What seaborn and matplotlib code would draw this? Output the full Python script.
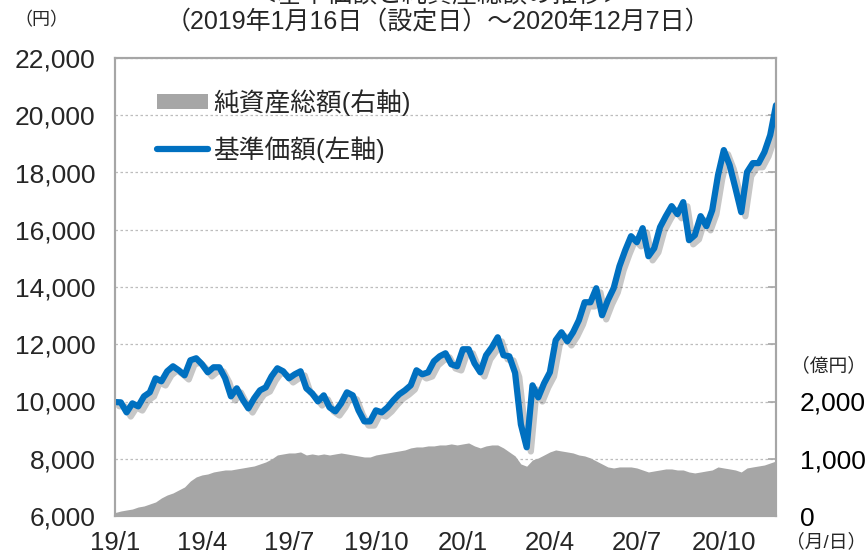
import numpy as np
import pandas as pd
import matplotlib
matplotlib.use("Agg")
import matplotlib.pyplot as plt
import matplotlib.patheffects as pe
from matplotlib.patches import Patch
from matplotlib.lines import Line2D
import seaborn as sns

# ---------------- data ----------------
tick_labels = ["19/1", "19/4", "19/7", "19/10", "20/1", "20/4", "20/7", "20/10"]
tick_step = 15  # observation index spacing between labelled ticks

price = [9980, 9970, 9620, 9935, 9830, 10180, 10320, 10810, 10705, 11055,
         11230, 11090, 10915, 11440, 11510, 11300, 11020, 11195, 11195, 10810,
         10180, 10460, 10075, 9760, 10110, 10390, 10495, 10880, 11160, 11055,
         10810, 10950, 11055, 10460, 10285, 10005, 10215, 9795, 9655, 9935,
         10320, 10215, 9690, 9305, 9305, 9690, 9620, 9795, 10040, 10250,
         10390, 10565, 11090, 10950, 11020, 11405, 11580, 11685, 11300, 11230,
         11825, 11825, 11335, 11020, 11615, 11895, 12243, 11615, 11580, 11000,
         9200, 8400, 10565, 10145, 10635, 11020, 12138, 12418, 12103, 12418,
         12838, 13467, 13467, 13957, 13013, 13537, 13957, 14726, 15285, 15775,
         15565, 16055, 15075, 15355, 16090, 16475, 16825, 16545, 16965, 15635,
         15810, 16475, 16125, 16685, 17908, 18783, 18258, 17454, 16615, 18013,
         18328, 18328, 18713, 19307, 20350]

nav = [60, 87, 105, 122, 157, 175, 210, 245, 315, 367,
       402, 455, 507, 612, 682, 717, 734, 769, 787, 804,
       804, 822, 839, 857, 874, 909, 944, 996, 1066, 1084,
       1101, 1101, 1119, 1066, 1084, 1066, 1084, 1066, 1084, 1101,
       1084, 1066, 1049, 1031, 1031, 1066, 1084, 1101, 1119, 1136,
       1154, 1189, 1206, 1206, 1224, 1224, 1241, 1241, 1259, 1241,
       1259, 1276, 1224, 1189, 1224, 1241, 1241, 1189, 1119, 1049,
       909, 870, 979, 1014, 1066, 1119, 1154, 1136, 1119, 1101,
       1066, 1049, 1014, 961, 909, 857, 839, 857, 857, 857,
       839, 804, 769, 787, 804, 822, 822, 804, 804, 769,
       752, 769, 787, 804, 857, 839, 822, 804, 769, 839,
       857, 874, 891, 926, 961]

left_ticks = list(range(6000, 22001, 2000))
right_ticks = list(range(0, 8001, 1000))
right_labels = ["0", "1,000", "2,000"]

# ---------------- style ----------------
sns.set_theme(style="white")
plt.rcParams['font.family'] = ['Liberation Sans', 'Noto Sans CJK JP', 'DejaVu Sans']

BLUE = "#0070C0"
GRAY = "#A6A6A6"
SPINE = "#A6A6A6"

df = pd.DataFrame({"idx": np.arange(len(price)), "price": price, "nav": nav})

W, H = 865, 556
fig = plt.figure(figsize=(W / 100, H / 100), dpi=100)
ax = fig.add_axes([115 / W, 1 - 516 / H, 661 / W, 458 / H])
ax2 = ax.twinx()
ax.set_zorder(ax2.get_zorder() + 1)
ax.patch.set_visible(False)
ax2.patch.set_facecolor("white")

# NAV area (right axis)
ax2.fill_between(df["idx"], df["nav"], 0, color=GRAY, lw=0, zorder=2)
ax2.set_ylim(0, 8000)
ax2.set_yticks(right_ticks)
ax2.set_yticklabels(right_labels + [""] * (len(right_ticks) - len(right_labels)))
ax2.tick_params(axis="y", direction="in", length=6, width=1.2, color=SPINE,
                pad=17, labelsize=19, labelcolor="black")
ax2.yaxis.grid(True, linestyle=(0, (2, 2)), color="#BDBDBD", lw=0.9)
ax2.set_axisbelow(True)

# Price line (left axis)
sns.lineplot(data=df, x="idx", y="price", ax=ax, color=BLUE, lw=4.5,
             legend=False)
ln = ax.lines[0]
ln.set_solid_capstyle("round")
ln.set_solid_joinstyle("round")
ln.set_path_effects([pe.SimpleLineShadow(offset=(3, -3), shadow_color="black", alpha=0.22),
                     pe.Normal()])

ax.set_ylim(6000, 22000)
ax.set_xlim(0, len(price) - 1)
ax.set_yticks(left_ticks)
ax.set_yticklabels([f"{v:,}" for v in left_ticks])
ax.tick_params(axis="y", length=0, pad=14, labelsize=19)
ax.set_xticks([i * tick_step for i in range(len(tick_labels))])
ax.set_xticklabels(tick_labels)
ax.tick_params(axis="x", length=0, pad=11, labelsize=18.5)
ax.set_xlabel("")
ax.set_ylabel("")
ax2.set_ylabel("")
ax.grid(False)

for a in (ax, ax2):
    for s in a.spines.values():
        s.set_color(SPINE)
        s.set_linewidth(1.5)
        s.set_visible(True)

# Legend
handles = [Patch(facecolor=GRAY, edgecolor="none"),
           Line2D([], [], color=BLUE, lw=4.5, solid_capstyle="round")]
labels = ["純資産総額(右軸)", "基準価額(左軸)"]
fig.legend(handles, labels, loc="upper left",
           bbox_to_anchor=(157 / W, 1 - 89 / H), frameon=False,
           fontsize=18.5, handlelength=2.0, handleheight=0.55,
           handletextpad=0.2, labelspacing=0.8, borderpad=0,
           borderaxespad=0)

# Texts
fig.text(440 / W, 1 + 5 / H, "＜基準価額と純資産総額の推移＞", ha="center",
         va="center", fontsize=18)
fig.text(438 / W, 1 - 22 / H, "（2019年1月16日（設定日）～2020年12月7日）",
         ha="center", va="center", fontsize=18)
fig.text(41 / W, 1 - 21 / H, "（円）", ha="center", va="center", fontsize=13)
fig.text(828 / W, 1 - 366 / H, "（億円）", ha="center", va="center", fontsize=13.5)
fig.text(826 / W, 1 - 542 / H, "（月/日）", ha="center", va="center", fontsize=13.5)

fig.savefig("out.png", dpi=100)
